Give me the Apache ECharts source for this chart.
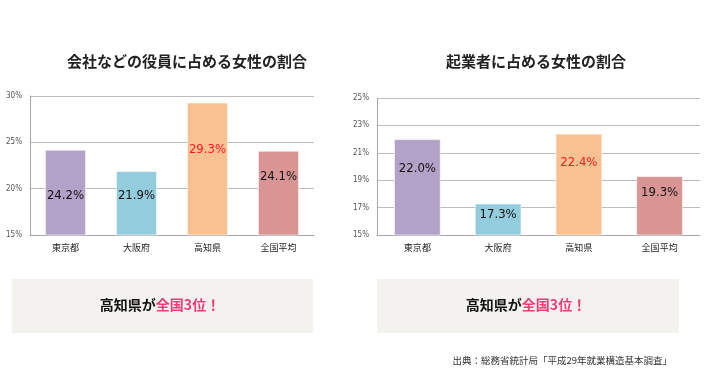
<!DOCTYPE html>
<html><head><meta charset="utf-8">
<script src="https://cdn.jsdelivr.net/npm/echarts@6/dist/echarts.min.js"></script>
<style>html,body{margin:0;padding:0;background:#fff}#c{width:710px;height:380px}</style>
</head><body><div id="c"></div>
<script>
const categories = ['東京都', '大阪府', '高知県', '全国平均'];
const officerValues = [24.2, 21.9, 29.3, 24.1];
const founderValues = [22.0, 17.3, 22.4, 19.3];
const officerTitle = '会社などの役員に占める女性の割合';
const founderTitle = '起業者に占める女性の割合';
const officerAxis = { min: 15, max: 30, interval: 5 };
const founderAxis = { min: 15, max: 25, interval: 2 };
const bannerLead = '高知県が';
const bannerHighlight = '全国3位！';
const sourceText = '出典：総務省統計局「平成29年就業構造基本調査」';

// styles
const barColors = ['#B3A2C8', '#93CDDD', '#F9C191', '#D99594'];
const labelColors = ['#111', '#111', '#FF1A1A', '#111'];
const officerLabelDist = [39, 18, 41, 19];
const founderLabelDist = [23, 5, 23, 10];
const JP = '"Noto Sans CJK JP", "Noto Sans", sans-serif';
const NUM = '"Liberation Sans Narrow", "DejaVu Sans Condensed", "Liberation Sans", sans-serif';

function makeData(values, dists) {
  return values.map((v, i) => ({
    value: v,
    itemStyle: { color: barColors[i] },
    label: { color: labelColors[i], distance: dists[i] }
  }));
}
function yAxis(idx, ax) {
  return {
    type: 'value', gridIndex: idx, min: ax.min, max: ax.max, interval: ax.interval,
    axisLine: { show: true, lineStyle: { color: '#A6A6A6', width: 1 } },
    axisTick: { show: false },
    splitLine: { lineStyle: { color: '#BDBDBD', width: 1 } },
    axisLabel: { formatter: '{value}%', fontSize: 8, color: '#555', margin: 8, fontFamily: NUM }
  };
}
function xAxis(idx) {
  return {
    type: 'category', gridIndex: idx, data: categories,
    axisLine: { lineStyle: { color: '#A6A6A6' } },
    axisTick: { show: false },
    axisLabel: { fontSize: 9, color: '#222', margin: 8, fontFamily: JP }
  };
}
function series(idx, values, dists) {
  return {
    type: 'bar', xAxisIndex: idx, yAxisIndex: idx, barWidth: '58%',
    data: makeData(values, dists),
    label: { show: true, position: 'insideTop', formatter: p => p.value.toFixed(1) + '%',
      fontSize: 13, fontFamily: NUM },
    itemStyle: { borderColor: 'rgba(255,255,255,0.6)', borderWidth: 1 },
    animation: false
  };
}

const chart = echarts.init(document.getElementById('c'), null, { renderer: 'canvas' });
chart.setOption({
  animation: false,
  title: [
    { text: officerTitle, left: 182, top: 49, textAlign: 'center',
      textStyle: { fontSize: 15, fontWeight: 'bold', color: '#222', fontFamily: JP } },
    { text: founderTitle, left: 531, top: 49, textAlign: 'center',
      textStyle: { fontSize: 15, fontWeight: 'bold', color: '#222', fontFamily: JP } }
  ],
  grid: [
    { left: 30, right: 396, top: 96, bottom: 145 },
    { left: 377, right: 10, top: 98, bottom: 145 }
  ],
  xAxis: [xAxis(0), xAxis(1)],
  yAxis: [yAxis(0, officerAxis), yAxis(1, founderAxis)],
  series: [series(0, officerValues, officerLabelDist), series(1, founderValues, founderLabelDist)],
  graphic: [
    { type: 'rect', shape: { x: 12, y: 279, width: 301, height: 54 }, style: { fill: '#F3F2EF' } },
    { type: 'rect', shape: { x: 377, y: 279, width: 302, height: 54 }, style: { fill: '#F3F2EF' } },
    { type: 'text', x: 160, y: 305, style: {
        text: '{a|' + bannerLead + '}{b|' + bannerHighlight + '}', align: 'center', verticalAlign: 'middle',
        rich: { a: { fontSize: 14, fontWeight: 'bold', fill: '#111', fontFamily: JP },
                b: { fontSize: 14, fontWeight: 'bold', fill: '#F23A74', fontFamily: JP } } } },
    { type: 'text', x: 526, y: 305, style: {
        text: '{a|' + bannerLead + '}{b|' + bannerHighlight + '}', align: 'center', verticalAlign: 'middle',
        rich: { a: { fontSize: 14, fontWeight: 'bold', fill: '#111', fontFamily: JP },
                b: { fontSize: 14, fontWeight: 'bold', fill: '#F23A74', fontFamily: JP } } } },
    { type: 'text', x: 672, y: 360, style: { text: sourceText, align: 'right', verticalAlign: 'middle',
        fontSize: 9.5, fill: '#333', fontFamily: JP } }
  ]
});
</script></body></html>
